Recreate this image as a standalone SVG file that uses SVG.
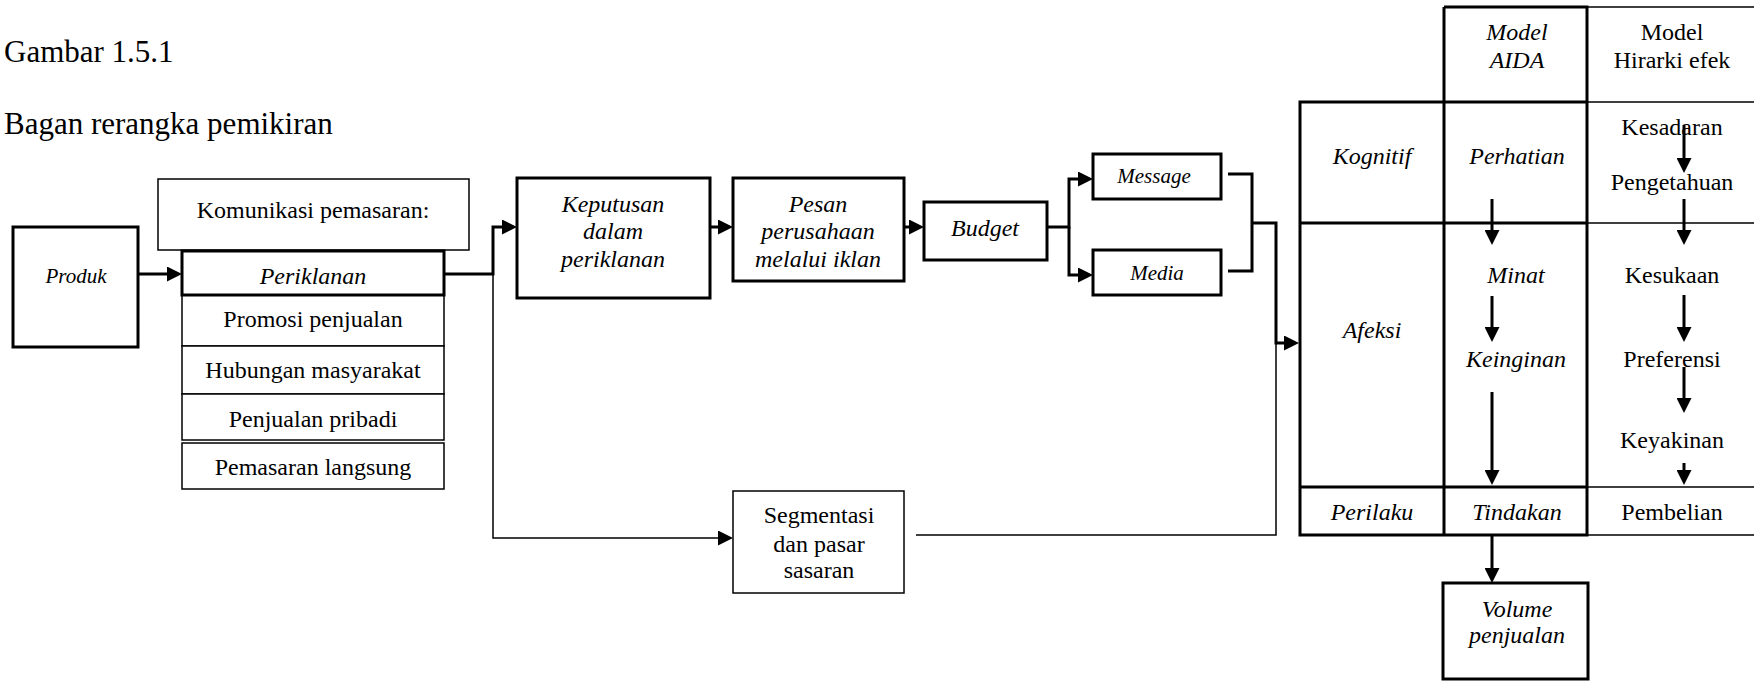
<svg xmlns="http://www.w3.org/2000/svg" width="1754" height="681" viewBox="0 0 1754 681">
<style>
.t{font-family:"Liberation Serif","Times New Roman",serif;font-size:24px;fill:#000;text-anchor:middle}
.s{font-size:21px}
.i{font-style:italic}
.l{text-anchor:start;font-size:31px}
.k{fill:#fff;stroke:#000;stroke-width:3}
.n{fill:#fff;stroke:#000;stroke-width:1.5}
.ck{fill:none;stroke:#000;stroke-width:3}
.cn{fill:none;stroke:#000;stroke-width:1.5}
</style>
<defs>
<marker id="ah" markerUnits="userSpaceOnUse" markerWidth="15" markerHeight="15" refX="10" refY="7.5" orient="auto" viewBox="0 0 15 15"><path d="M0,0 L15,7.5 L0,15 z" fill="#000"/></marker>
</defs>
<rect width="1754" height="681" fill="#fff"/>
<g id="title">
<text class="t l" x="4" y="62">Gambar 1.5.1</text>
<text class="t l" x="4" y="134">Bagan rerangka pemikiran</text>
</g>
<g id="connectors">
<path class="ck" d="M138,274 H177" marker-end="url(#ah)"/>
<path class="ck" d="M444,274 H493 V227 H512" marker-end="url(#ah)"/>
<path class="cn" d="M493,274 V538 H728" marker-end="url(#ah)"/>
<path class="ck" d="M710,227 H728" marker-end="url(#ah)"/>
<path class="ck" d="M904,227 H919" marker-end="url(#ah)"/>
<path class="ck" d="M1047,227 H1069 V179 H1088" marker-end="url(#ah)"/>
<path class="ck" d="M1069,227 V275 H1088" marker-end="url(#ah)"/>
<path class="ck" d="M1228,174 H1252 V271 H1228"/>
<path class="ck" d="M1252,223 H1276 V343 H1294" marker-end="url(#ah)"/>
<path class="cn" d="M916,535 H1276 V343"/>
<path class="ck" d="M1492,199 V240" marker-end="url(#ah)"/>
<path class="ck" d="M1492,296 V337" marker-end="url(#ah)"/>
<path class="ck" d="M1492,392 V480" marker-end="url(#ah)"/>
<path class="ck" d="M1492,535 V578" marker-end="url(#ah)"/>
<path class="ck" d="M1684,125 V168" marker-end="url(#ah)"/>
<path class="ck" d="M1684,199 V240" marker-end="url(#ah)"/>
<path class="ck" d="M1684,295 V337" marker-end="url(#ah)"/>
<path class="ck" d="M1684,367 V408" marker-end="url(#ah)"/>
<path class="ck" d="M1684,463 V480" marker-end="url(#ah)"/>
</g>
<g id="produk">
<rect class="k" x="13" y="227" width="125" height="120"/>
<text class="t i s" x="76" y="283">Produk</text>
</g>
<g id="komunikasi">
<rect class="n" x="158" y="179" width="311" height="71"/>
<text class="t" x="313" y="218">Komunikasi pemasaran:</text>
</g>
<g id="promosi">
<rect class="n" x="182" y="295" width="262" height="51"/>
<text class="t" x="313" y="327">Promosi penjualan</text>
</g>
<g id="hubungan">
<rect class="n" x="182" y="346" width="262" height="48"/>
<text class="t" x="313" y="378">Hubungan masyarakat</text>
</g>
<g id="penjualan">
<rect class="n" x="182" y="394" width="262" height="46"/>
<text class="t" x="313" y="427">Penjualan pribadi</text>
</g>
<g id="pemasaran">
<rect class="n" x="182" y="443" width="262" height="46"/>
<text class="t" x="313" y="475">Pemasaran langsung</text>
</g>
<g id="periklanan">
<rect class="k" x="182" y="251" width="262" height="44"/>
<text class="t i" x="313" y="284">Periklanan</text>
</g>
<g id="keputusan">
<rect class="k" x="517" y="178" width="193" height="120"/>
<text class="t i" x="613" y="212">Keputusan</text>
<text class="t i" x="613" y="239">dalam</text>
<text class="t i" x="613" y="267">periklanan</text>
</g>
<g id="pesan">
<rect class="k" x="733" y="178" width="171" height="103"/>
<text class="t i" x="818" y="212">Pesan</text>
<text class="t i" x="818" y="239">perusahaan</text>
<text class="t i" x="818" y="267">melalui iklan</text>
</g>
<g id="budget">
<rect class="k" x="924" y="202" width="123" height="58"/>
<text class="t i" x="985" y="236">Budget</text>
</g>
<g id="message">
<rect class="k" x="1093" y="154" width="128" height="45"/>
<text class="t i s" x="1154" y="183">Message</text>
</g>
<g id="media">
<rect class="k" x="1093" y="250" width="128" height="45"/>
<text class="t i s" x="1157" y="280">Media</text>
</g>
<g id="segmentasi">
<rect class="n" x="733" y="491" width="171" height="102"/>
<text class="t" x="819" y="523">Segmentasi</text>
<text class="t" x="819" y="552">dan pasar</text>
<text class="t" x="819" y="578">sasaran</text>
</g>
<g id="tabel">
<path class="cn" d="M1587,7 H1754 M1587,102 H1754 M1587,223 H1754 M1587,487 H1754 M1587,535 H1754"/>
<path class="ck" d="M1444,7 H1587 V535 H1300 V102 H1587 M1444,7 V535 M1300,223 H1587 M1300,487 H1587"/>
<text class="t i" x="1517" y="40">Model</text>
<text class="t i" x="1517" y="68">AIDA</text>
<text class="t" x="1672" y="40">Model</text>
<text class="t" x="1672" y="68">Hirarki efek</text>
<text class="t i" x="1372" y="164">Kognitif</text>
<text class="t i" x="1517" y="164">Perhatian</text>
<text class="t" x="1672" y="135">Kesadaran</text>
<text class="t" x="1672" y="190">Pengetahuan</text>
<text class="t i" x="1372" y="338">Afeksi</text>
<text class="t i" x="1516" y="283">Minat</text>
<text class="t i" x="1516" y="367">Keinginan</text>
<text class="t" x="1672" y="283">Kesukaan</text>
<text class="t" x="1672" y="367">Preferensi</text>
<text class="t" x="1672" y="448">Keyakinan</text>
<text class="t i" x="1372" y="520">Perilaku</text>
<text class="t i" x="1517" y="520">Tindakan</text>
<text class="t" x="1672" y="520">Pembelian</text>
</g>
<g id="volume">
<rect class="k" x="1443" y="583" width="145" height="96"/>
<text class="t i" x="1517" y="617">Volume</text>
<text class="t i" x="1517" y="643">penjualan</text>
</g>
</svg>
